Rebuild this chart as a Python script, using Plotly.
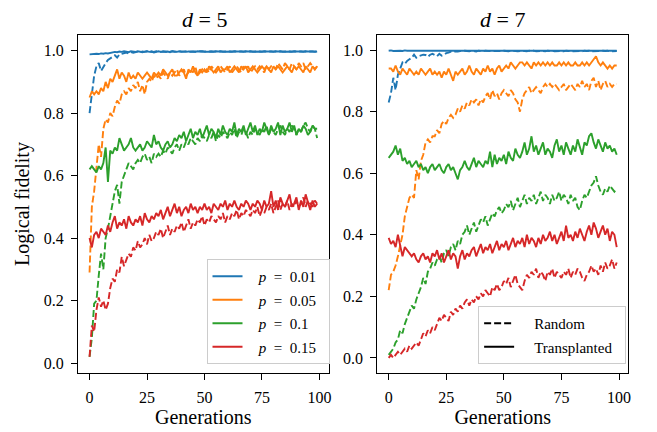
import plotly.graph_objects as go

generations = list(range(100))
p_labels = ["0.01", "0.05", "0.1", "0.15"]
colors = ["#1f77b4", "#ff7f0e", "#2ca02c", "#d62728"]

# ---------------- d = 5 ----------------
d5_t_p001 = [0.988,0.989,0.988,0.990,0.989,0.991,0.990,0.992,0.991,0.993,
0.994,0.996,0.995,0.997,0.996,0.998,0.997,0.995,0.998,0.997,
0.996,0.998,0.997,0.995,0.997,0.998,0.996,0.997,0.994,0.997,
0.998,0.996,0.997,0.998,0.997,0.995,0.998,0.997,0.996,0.998,
0.997,0.998,0.996,0.997,0.998,0.997,0.996,0.998,0.997,0.998,
0.996,0.997,0.998,0.997,0.996,0.998,0.997,0.998,0.996,0.997,
0.998,0.997,0.996,0.998,0.997,0.998,0.997,0.996,0.998,0.997,
0.998,0.996,0.997,0.998,0.997,0.996,0.998,0.997,0.998,0.997,
0.996,0.998,0.997,0.998,0.996,0.997,0.998,0.997,0.996,0.998,
0.997,0.998,0.997,0.996,0.998,0.997,0.998,0.997,0.996,0.997]
d5_r_p001 = [0.800,0.870,0.920,0.950,0.960,0.935,0.950,0.960,0.970,0.975,
0.980,0.985,0.978,0.988,0.990,0.992,0.994,0.991,0.995,0.993,
0.996,0.997,0.995,0.997,0.996,0.998,0.995,0.997,0.996,0.998,
0.997,0.996,0.998,0.997,0.995,0.997,0.998,0.996,0.997,0.998,
0.996,0.997,0.998,0.996,0.997,0.998,0.997,0.996,0.998,0.997,
0.997,0.998,0.996,0.997,0.998,0.996,0.998,0.997,0.997,0.998,
0.996,0.998,0.997,0.997,0.998,0.996,0.997,0.998,0.997,0.996,
0.997,0.998,0.998,0.996,0.997,0.998,0.997,0.998,0.996,0.998,
0.997,0.996,0.998,0.997,0.997,0.998,0.996,0.998,0.997,0.997,
0.998,0.996,0.998,0.997,0.997,0.998,0.996,0.997,0.998,0.997]
d5_t_p005 = [0.85,0.87,0.86,0.87,0.86,0.88,0.87,0.90,0.88,0.91,
0.90,0.92,0.94,0.91,0.93,0.92,0.90,0.93,0.91,0.92,
0.91,0.93,0.92,0.91,0.92,0.93,0.92,0.91,0.93,0.92,
0.93,0.92,0.94,0.93,0.92,0.93,0.94,0.92,0.92,0.93,
0.94,0.93,0.91,0.94,0.93,0.95,0.93,0.92,0.94,0.93,
0.94,0.93,0.95,0.94,0.93,0.94,0.95,0.93,0.94,0.94,
0.95,0.93,0.94,0.95,0.94,0.93,0.95,0.94,0.95,0.93,
0.94,0.95,0.94,0.93,0.94,0.95,0.94,0.95,0.94,0.93,
0.95,0.94,0.95,0.94,0.93,0.94,0.95,0.94,0.93,0.95,
0.94,0.95,0.94,0.93,0.95,0.94,0.93,0.95,0.94,0.95]
d5_r_p005 = [0.29,0.50,0.55,0.63,0.70,0.66,0.75,0.78,0.77,0.80,
0.79,0.82,0.84,0.83,0.86,0.87,0.86,0.88,0.87,0.89,
0.88,0.90,0.87,0.89,0.86,0.90,0.91,0.90,0.92,0.91,
0.92,0.91,0.93,0.92,0.91,0.93,0.92,0.93,0.94,0.92,
0.93,0.94,0.92,0.93,0.94,0.93,0.95,0.92,0.93,0.94,
0.93,0.94,0.93,0.95,0.94,0.93,0.94,0.95,0.94,0.93,
0.94,0.95,0.93,0.94,0.95,0.94,0.93,0.95,0.94,0.95,
0.93,0.94,0.95,0.94,0.95,0.94,0.93,0.95,0.94,0.95,
0.95,0.94,0.96,0.95,0.94,0.96,0.95,0.94,0.96,0.95,
0.94,0.96,0.95,0.96,0.94,0.95,0.96,0.95,0.94,0.95]
d5_t_p01 = [0.62,0.63,0.62,0.61,0.63,0.62,0.64,0.69,0.58,0.68,
0.67,0.69,0.68,0.72,0.70,0.68,0.69,0.70,0.72,0.69,
0.68,0.69,0.70,0.68,0.69,0.71,0.70,0.69,0.73,0.70,
0.71,0.69,0.68,0.70,0.71,0.69,0.70,0.72,0.71,0.73,
0.72,0.74,0.71,0.73,0.75,0.72,0.74,0.73,0.75,0.72,
0.74,0.76,0.73,0.75,0.74,0.72,0.75,0.73,0.76,0.74,
0.73,0.75,0.74,0.77,0.73,0.75,0.74,0.76,0.73,0.75,
0.77,0.74,0.76,0.73,0.75,0.74,0.77,0.75,0.73,0.76,
0.74,0.75,0.77,0.73,0.76,0.74,0.75,0.77,0.74,0.76,
0.73,0.75,0.74,0.76,0.75,0.73,0.74,0.76,0.75,0.75]
d5_r_p01 = [0.02,0.08,0.19,0.20,0.28,0.35,0.30,0.40,0.43,0.47,
0.52,0.55,0.57,0.51,0.58,0.60,0.62,0.64,0.63,0.62,
0.64,0.65,0.64,0.66,0.67,0.65,0.66,0.64,0.67,0.66,
0.67,0.66,0.68,0.67,0.69,0.68,0.67,0.69,0.70,0.68,
0.70,0.69,0.71,0.70,0.72,0.71,0.70,0.72,0.71,0.73,
0.72,0.71,0.73,0.72,0.74,0.71,0.73,0.72,0.74,0.73,
0.72,0.74,0.73,0.75,0.72,0.74,0.73,0.75,0.74,0.72,
0.74,0.73,0.75,0.74,0.73,0.75,0.74,0.76,0.73,0.75,
0.74,0.73,0.75,0.76,0.74,0.73,0.75,0.74,0.76,0.75,
0.73,0.75,0.74,0.76,0.77,0.75,0.74,0.76,0.75,0.72]
d5_t_p015 = [0.40,0.37,0.41,0.42,0.40,0.43,0.42,0.41,0.44,0.42,
0.45,0.47,0.43,0.45,0.44,0.46,0.43,0.47,0.45,0.44,
0.46,0.45,0.47,0.44,0.48,0.46,0.45,0.47,0.46,0.48,
0.47,0.49,0.46,0.48,0.50,0.47,0.49,0.51,0.48,0.50,
0.47,0.49,0.50,0.48,0.51,0.49,0.50,0.48,0.50,0.49,
0.51,0.49,0.50,0.48,0.51,0.50,0.49,0.51,0.50,0.52,
0.49,0.51,0.50,0.52,0.50,0.49,0.51,0.50,0.52,0.51,
0.49,0.51,0.50,0.52,0.51,0.49,0.52,0.50,0.51,0.55,
0.50,0.52,0.49,0.53,0.51,0.50,0.52,0.54,0.50,0.51,
0.53,0.49,0.52,0.50,0.54,0.51,0.49,0.52,0.50,0.51]
d5_r_p015 = [0.02,0.12,0.10,0.17,0.21,0.18,0.20,0.17,0.19,0.24,
0.27,0.26,0.30,0.29,0.34,0.31,0.33,0.35,0.34,0.37,
0.36,0.39,0.37,0.38,0.40,0.38,0.41,0.39,0.40,0.42,
0.41,0.43,0.40,0.42,0.44,0.41,0.43,0.42,0.44,0.43,
0.45,0.42,0.44,0.46,0.43,0.45,0.44,0.46,0.45,0.47,
0.44,0.46,0.45,0.47,0.46,0.45,0.47,0.46,0.48,0.45,
0.47,0.46,0.48,0.47,0.49,0.46,0.48,0.47,0.49,0.48,
0.47,0.49,0.48,0.50,0.47,0.49,0.48,0.50,0.49,0.51,
0.48,0.50,0.52,0.49,0.51,0.50,0.52,0.49,0.51,0.50,
0.52,0.50,0.51,0.53,0.50,0.52,0.51,0.50,0.52,0.51]

# ---------------- d = 7 ----------------
d7_t_p001 = [0.998,0.999,0.997,0.998,0.999,0.998,0.997,0.999,0.998,0.998,
0.999,0.997,0.998,0.999,0.998,0.997,0.998,0.999,0.998,0.997,
0.999,0.998,0.998,0.997,0.999,0.998,0.999,0.997,0.998,0.998,
0.999,0.998,0.997,0.999,0.998,0.998,0.999,0.997,0.998,0.999,
0.998,0.997,0.999,0.998,0.998,0.999,0.997,0.998,0.999,0.998,
0.998,0.997,0.999,0.998,0.999,0.997,0.998,0.998,0.999,0.998,
0.997,0.999,0.998,0.998,0.999,0.997,0.998,0.999,0.998,0.998,
0.999,0.997,0.998,0.999,0.998,0.997,0.999,0.998,0.998,0.999,
0.998,0.997,0.999,0.998,0.998,0.999,0.997,0.998,0.999,0.998,
0.998,0.999,0.997,0.998,0.999,0.998,0.997,0.999,0.998,0.998]
d7_r_p001 = [0.830,0.860,0.910,0.870,0.920,0.940,0.960,0.955,0.965,0.970,
0.975,0.985,0.975,0.980,0.982,0.985,0.984,0.978,0.985,0.988,
0.984,0.980,0.988,0.982,0.985,0.990,0.992,0.995,0.993,0.996,
0.995,0.997,0.996,0.998,0.997,0.996,0.998,0.997,0.995,0.998,
0.997,0.996,0.998,0.997,0.998,0.996,0.997,0.998,0.997,0.996,
0.998,0.997,0.996,0.998,0.997,0.998,0.996,0.997,0.998,0.997,
0.996,0.998,0.997,0.998,0.996,0.997,0.998,0.997,0.996,0.998,
0.997,0.998,0.996,0.997,0.998,0.997,0.996,0.998,0.997,0.998,
0.996,0.997,0.998,0.997,0.996,0.998,0.997,0.998,0.996,0.997,
0.998,0.997,0.996,0.998,0.997,0.998,0.996,0.997,0.998,0.997]
d7_t_p005 = [0.94,0.94,0.93,0.95,0.93,0.92,0.94,0.93,0.92,0.94,
0.93,0.92,0.93,0.92,0.94,0.93,0.92,0.93,0.94,0.92,
0.93,0.92,0.93,0.91,0.93,0.92,0.94,0.92,0.90,0.93,
0.92,0.93,0.94,0.92,0.93,0.95,0.93,0.92,0.94,0.93,
0.92,0.94,0.93,0.95,0.93,0.94,0.92,0.94,0.95,0.93,
0.94,0.95,0.94,0.96,0.95,0.94,0.95,0.96,0.96,0.95,
0.96,0.95,0.94,0.96,0.95,0.96,0.95,0.96,0.95,0.96,
0.95,0.96,0.95,0.95,0.96,0.95,0.96,0.95,0.96,0.95,
0.95,0.96,0.95,0.95,0.96,0.95,0.96,0.95,0.96,0.97,
0.98,0.96,0.95,0.96,0.95,0.94,0.95,0.94,0.95,0.95]
d7_r_p005 = [0.22,0.27,0.28,0.30,0.33,0.36,0.40,0.46,0.49,0.52,
0.53,0.52,0.61,0.58,0.64,0.66,0.70,0.71,0.70,0.72,
0.72,0.74,0.73,0.76,0.77,0.76,0.78,0.79,0.78,0.79,
0.81,0.80,0.82,0.81,0.83,0.82,0.84,0.83,0.84,0.82,
0.84,0.83,0.85,0.86,0.84,0.87,0.85,0.86,0.84,0.86,
0.87,0.86,0.85,0.87,0.86,0.84,0.83,0.80,0.84,0.86,
0.87,0.88,0.86,0.87,0.88,0.87,0.86,0.88,0.89,0.88,
0.89,0.88,0.89,0.88,0.87,0.88,0.89,0.87,0.88,0.89,
0.88,0.87,0.89,0.88,0.90,0.88,0.89,0.87,0.90,0.91,
0.88,0.90,0.87,0.89,0.90,0.88,0.89,0.88,0.89,0.89]
d7_t_p01 = [0.65,0.66,0.67,0.69,0.66,0.68,0.64,0.65,0.63,0.64,
0.62,0.63,0.64,0.62,0.63,0.61,0.62,0.60,0.62,0.63,
0.61,0.62,0.63,0.61,0.60,0.62,0.63,0.61,0.62,0.60,
0.58,0.61,0.62,0.64,0.62,0.61,0.63,0.65,0.62,0.64,
0.63,0.62,0.64,0.63,0.67,0.62,0.66,0.63,0.65,0.64,
0.66,0.63,0.67,0.65,0.64,0.68,0.66,0.65,0.67,0.70,
0.66,0.68,0.72,0.67,0.69,0.66,0.68,0.70,0.66,0.68,
0.67,0.65,0.69,0.71,0.67,0.69,0.66,0.70,0.68,0.66,
0.69,0.67,0.71,0.68,0.66,0.70,0.69,0.72,0.73,0.70,
0.68,0.71,0.69,0.67,0.70,0.68,0.69,0.67,0.68,0.66]
d7_r_p01 = [0.01,0.02,0.03,0.05,0.06,0.09,0.08,0.11,0.13,0.15,
0.17,0.16,0.19,0.21,0.23,0.26,0.24,0.28,0.29,0.31,
0.30,0.32,0.33,0.31,0.34,0.35,0.33,0.36,0.37,0.35,
0.38,0.37,0.40,0.41,0.43,0.40,0.42,0.44,0.41,0.43,
0.45,0.44,0.46,0.43,0.45,0.47,0.46,0.48,0.49,0.47,
0.48,0.50,0.49,0.51,0.48,0.50,0.52,0.49,0.51,0.53,
0.50,0.52,0.51,0.53,0.50,0.52,0.54,0.51,0.53,0.52,
0.50,0.53,0.51,0.52,0.54,0.51,0.53,0.52,0.50,0.53,
0.51,0.52,0.49,0.48,0.51,0.53,0.52,0.54,0.56,0.57,
0.59,0.56,0.54,0.53,0.55,0.54,0.56,0.55,0.54,0.55]
d7_t_p015 = [0.39,0.37,0.38,0.36,0.40,0.37,0.33,0.36,0.35,0.34,
0.33,0.34,0.32,0.31,0.33,0.34,0.32,0.33,0.31,0.34,
0.33,0.35,0.32,0.34,0.31,0.33,0.35,0.32,0.34,0.33,
0.29,0.33,0.35,0.32,0.34,0.33,0.35,0.36,0.33,0.35,
0.37,0.34,0.36,0.35,0.37,0.34,0.36,0.38,0.35,0.37,
0.36,0.38,0.35,0.37,0.39,0.36,0.38,0.37,0.39,0.36,
0.40,0.37,0.39,0.38,0.36,0.39,0.37,0.40,0.38,0.39,
0.41,0.38,0.40,0.37,0.39,0.41,0.38,0.43,0.39,0.40,
0.38,0.41,0.39,0.42,0.40,0.38,0.41,0.43,0.40,0.44,
0.42,0.39,0.41,0.43,0.40,0.42,0.38,0.41,0.40,0.36]
d7_r_p015 = [0.00,0.01,0.00,0.01,0.02,0.01,0.02,0.03,0.02,0.04,
0.03,0.04,0.05,0.04,0.06,0.08,0.07,0.09,0.08,0.10,
0.09,0.11,0.13,0.12,0.14,0.13,0.12,0.15,0.14,0.16,
0.15,0.17,0.16,0.18,0.19,0.17,0.19,0.18,0.20,0.19,
0.21,0.20,0.22,0.21,0.20,0.23,0.22,0.24,0.22,0.23,
0.25,0.24,0.26,0.23,0.25,0.27,0.24,0.23,0.22,0.25,
0.27,0.26,0.28,0.27,0.29,0.26,0.28,0.27,0.25,0.28,
0.27,0.29,0.26,0.28,0.27,0.26,0.28,0.27,0.29,0.26,
0.28,0.27,0.29,0.28,0.26,0.25,0.27,0.28,0.30,0.28,
0.29,0.27,0.30,0.28,0.31,0.29,0.30,0.32,0.29,0.31]

y_ticks = [0.0, 0.2, 0.4, 0.6, 0.8, 1.0]
x_ticks = [0, 25, 50, 75, 100]

panels = [
    ("x", "y", [d5_r_p001, d5_r_p005, d5_r_p01, d5_r_p015],
               [d5_t_p001, d5_t_p005, d5_t_p01, d5_t_p015]),
    ("x2", "y2", [d7_r_p001, d7_r_p005, d7_r_p01, d7_r_p015],
                 [d7_t_p001, d7_t_p005, d7_t_p01, d7_t_p015]),
]

FONT = "Liberation Serif"
BLACK = "black"
fig = go.Figure()
LW = 1.9
DASH = "7px,3px"
SP = "&nbsp;"

for xa, ya, rand_series, trans_series in panels:
    for i in range(4):
        fig.add_trace(go.Scatter(x=generations, y=rand_series[i], mode="lines",
                                 line=dict(color=colors[i], width=LW, dash=DASH),
                                 xaxis=xa, yaxis=ya, showlegend=False, hoverinfo="skip"))
        fig.add_trace(go.Scatter(x=generations, y=trans_series[i], mode="lines",
                                 line=dict(color=colors[i], width=LW),
                                 xaxis=xa, yaxis=ya, showlegend=False, hoverinfo="skip"))

# legend entries (p values)
for i in range(4):
    fig.add_trace(go.Scatter(x=[None], y=[None], mode="lines",
                             line=dict(color=colors[i], width=LW),
                             name=SP * 3 + "<i>p</i>" + SP * 2 + "=" + SP * 2 + p_labels[i] + SP * 2,
                             legend="legend", legendgroup="p%d" % i,
                             xaxis="x", yaxis="y"))
# legend entries (method)
for name, dash in [("Random", DASH), ("Transplanted", "solid")]:
    fig.add_trace(go.Scatter(x=[None], y=[None], mode="lines",
                             line=dict(color=BLACK, width=LW, dash=dash),
                             name=SP * 4 + name + SP * 2, legend="legend2", legendgroup=name,
                             xaxis="x2", yaxis="y2"))

# page body has an 8px margin: lay out in a 649x424 figure shifted by 8px
W, H = 649, 424
OFF = 8
def px_x(v):
    return (v - OFF) / W
def px_y(v):
    return 1 - (v - OFF) / H

ax_common = dict(showline=True, linecolor=BLACK, linewidth=1.3, mirror=True,
                 ticks="outside", ticklen=6, tickcolor=BLACK, tickwidth=1.3,
                 showgrid=False, zeroline=False, ticklabelstandoff=4,
                 tickfont=dict(family=FONT, size=16, color=BLACK))
title_font = dict(family=FONT, size=20, color=BLACK)
xax = dict(ax_common, range=[-4.95, 103.95], tickvals=x_ticks,
           title=dict(text="Generations", font=title_font, standoff=2))
yax = dict(ax_common, tickvals=y_ticks, tickformat=".1f")

ydom = [px_y(373), px_y(35)]
legend_common = dict(bgcolor="rgba(255,255,255,0.8)", bordercolor="#cccccc", borderwidth=1,
                     font=dict(family=FONT, size=15, color=BLACK), tracegroupgap=1,
                     itemwidth=30, xanchor="right", yanchor="bottom")
fig.update_layout(
    width=W, height=H,
    margin=dict(l=0, r=0, t=0, b=0),
    paper_bgcolor="white", plot_bgcolor="white",
    font=dict(family=FONT, color=BLACK),
    xaxis=dict(xax, domain=[px_x(78.5), px_x(330)], anchor="y"),
    yaxis=dict(yax, domain=ydom, anchor="x", range=[-0.032, 1.050],
               title=dict(text="Logical fidelity", font=title_font, standoff=8)),
    xaxis2=dict(xax, domain=[px_x(379), px_x(631)], anchor="y2"),
    yaxis2=dict(yax, domain=ydom, anchor="x2", range=[-0.049, 1.049]),
    legend=dict(legend_common, x=px_x(331), y=px_y(364)),
    legend2=dict(legend_common, x=px_x(629), y=px_y(364)),
    annotations=[
        dict(text="<i>d</i> = 5", x=px_x(205), y=px_y(19.5), xref="paper", yref="paper",
             showarrow=False, font=dict(family=FONT, size=22, color=BLACK),
             xanchor="center", yanchor="middle"),
        dict(text="<i>d</i> = 7", x=px_x(505), y=px_y(19.5), xref="paper", yref="paper",
             showarrow=False, font=dict(family=FONT, size=22, color=BLACK),
             xanchor="center", yanchor="middle"),
    ],
)

fig.write_html("out.html")
